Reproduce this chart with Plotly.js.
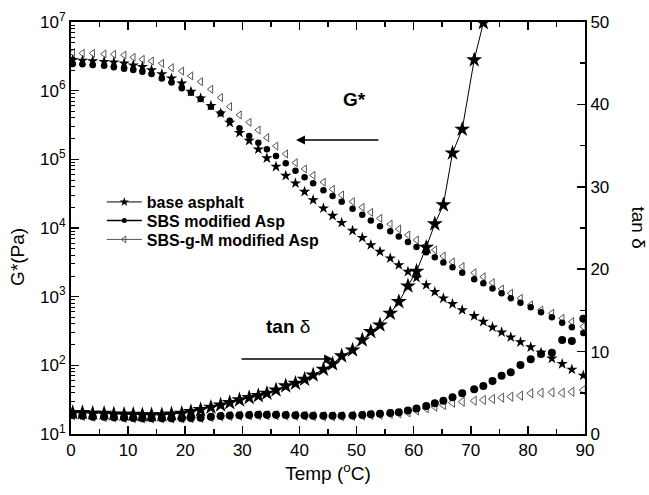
<!DOCTYPE html>
<html>
<head>
<meta charset="utf-8">
<script src="https://cdn.plot.ly/plotly-3.0.1.min.js"></script>
<style>html,body{margin:0;padding:0;background:#fff;}#chart{width:649px;height:495px;}</style>
</head>
<body>
<div id="chart"></div>
<script>
// Temperature (°C)
const temp = [0.3, 2.0, 3.8, 5.8, 7.5, 9.3, 10.9, 12.5, 14.1, 15.9, 17.6, 19.4, 21.0, 22.7, 24.5, 26.2, 27.8, 29.5, 31.2, 32.8, 34.3, 35.9, 37.6, 39.3, 40.9, 42.4, 44.2, 45.8, 47.4, 49.3, 51.0, 52.5, 54.1, 55.9, 57.4, 59.0, 60.5, 62.2, 63.7, 65.2, 66.8, 68.5, 70.6, 72.2, 73.8, 75.4, 77.0, 78.7, 80.5, 82.3, 84.2, 86.0, 87.7, 89.7];

// G* (Pa)
const gBase = [2.80e6, 2.74e6, 2.70e6, 2.64e6, 2.59e6, 2.50e6, 2.34e6, 2.23e6, 2.00e6, 1.75e6, 1.51e6, 1.28e6, 9.66e5, 7.74e5, 6.03e5, 4.68e5, 3.42e5, 2.44e5, 1.87e5, 1.40e5, 1.04e5, 7.82e4, 5.78e4, 4.48e4, 3.38e4, 2.56e4, 1.94e4, 1.51e4, 1.19e4, 9140, 7210, 5660, 4520, 3620, 2890, 2310, 1890, 1480, 1175, 946, 783, 640, 524, 433, 358, 303, 256, 218, 184, 153, 126, 105, 87, 71];
const gSBS = [2.44e6, 2.42e6, 2.36e6, 2.31e6, 2.19e6, 2.09e6, 2.00e6, 1.89e6, 1.75e6, 1.51e6, 1.31e6, 1.08e6, 9.33e5, 7.59e5, 5.85e5, 4.68e5, 3.66e5, 2.83e5, 2.19e5, 1.75e5, 1.40e5, 1.12e5, 8.75e4, 6.84e4, 5.47e4, 4.48e4, 3.55e4, 2.92e4, 2.42e4, 1.91e4, 1.56e4, 1.29e4, 1.06e4, 8970, 7530, 6270, 5300, 4420, 3740, 3140, 2680, 2230, 1790, 1570, 1320, 1120, 946, 817, 700, 593, 501, 418, 358, 295];
const gSBSgM = [3.57e6, 3.50e6, 3.50e6, 3.42e6, 3.39e6, 3.30e6, 3.06e6, 2.86e6, 2.70e6, 2.50e6, 2.16e6, 1.93e6, 1.64e6, 1.35e6, 1.05e6, 7.94e5, 5.85e5, 4.43e5, 3.46e5, 2.67e5, 2.07e5, 1.56e5, 1.20e5, 8.93e4, 7.24e4, 5.85e4, 4.65e4, 3.66e4, 3.03e4, 2.42e4, 2.00e4, 1.69e4, 1.38e4, 1.14e4, 9680, 7910, 6680, 5620, 4790, 3910, 3200, 2740, 2230, 1950, 1600, 1290, 1120, 946, 757, 640, 573, 484, 433, 366];

// tan delta
const tanBase = [2.59, 2.59, 2.51, 2.51, 2.43, 2.39, 2.39, 2.31, 2.31, 2.31, 2.43, 2.51, 2.71, 2.95, 3.24, 3.52, 3.80, 4.13, 4.41, 4.65, 4.94, 5.34, 5.83, 6.15, 6.64, 7.16, 7.85, 8.50, 9.47, 10.19, 11.41, 12.42, 13.23, 14.65, 16.06, 17.96, 19.75, 22.66, 25.49, 27.8, 34.1, 36.98, 45.4, 49.9];
const tanSBS = [2.31, 2.22, 2.10, 2.10, 2.02, 1.98, 1.94, 1.90, 1.90, 1.90, 1.90, 1.90, 1.94, 1.98, 2.10, 2.18, 2.25, 2.28, 2.31, 2.33, 2.33, 2.33, 2.31, 2.28, 2.25, 2.22, 2.20, 2.20, 2.20, 2.25, 2.31, 2.39, 2.45, 2.55, 2.65, 2.85, 3.10, 3.40, 3.73, 4.04, 4.45, 4.94, 5.42, 5.83, 6.43, 7.08, 7.49, 8.37, 9.07, 9.71, 9.87, 11.41, 11.29, 14.0];
const tanSBSgM = [2.25, 2.2, 2.1, 2.05, 2.0, 1.95, 1.92, 1.9, 1.9, 1.9, 1.9, 1.9, 1.92, 1.95, 2.05, 2.12, 2.18, 2.22, 2.25, 2.28, 2.28, 2.28, 2.25, 2.22, 2.2, 2.18, 2.15, 2.15, 2.15, 2.2, 2.25, 2.3, 2.35, 2.42, 2.5, 2.62, 2.85, 3.12, 3.32, 3.52, 3.80, 3.92, 4.04, 4.13, 4.25, 4.41, 4.53, 4.65, 4.94, 5.01, 5.06, 5.01, 5.13, 5.34];

const seriesNames = ['base asphalt', 'SBS modified Asp', 'SBS-g-M modified Asp'];
const yTickVals = [1e1, 1e2, 1e3, 1e4, 1e5, 1e6, 1e7];
const yTickText = ['10<sup>1</sup>', '10<sup>2</sup>', '10<sup>3</sup>', '10<sup>4</sup>', '10<sup>5</sup>', '10<sup>6</sup>', '10<sup>7</sup>'];

const FONT = 'Liberation Sans, Arial, sans-serif';
const GRAY = '#555';

const traces = [
  // G* curves (left log axis)
  {x: temp, y: gSBSgM, type: 'scatter', mode: 'markers', showlegend: false,
   marker: {symbol: 'triangle-left-open', size: 7, color: GRAY, line: {width: 1, color: GRAY}}},
  {x: temp, y: gSBS, type: 'scatter', mode: 'markers', showlegend: false,
   marker: {symbol: 'circle', size: 6.5, color: '#000'}},
  {x: temp, y: gBase, type: 'scatter', mode: 'markers', showlegend: false,
   marker: {symbol: 'star', size: 8.5, color: '#000', line: {width: 0}}},
  // tan delta curves (right axis)
  {x: temp, y: tanSBSgM, type: 'scatter', mode: 'markers', yaxis: 'y2', showlegend: false,
   marker: {symbol: 'triangle-left-open', size: 8, color: GRAY, line: {width: 1, color: GRAY}}},
  {x: temp, y: tanSBS, type: 'scatter', mode: 'markers', yaxis: 'y2', showlegend: false,
   marker: {symbol: 'circle', size: 8, color: '#000'}},
  {x: temp.slice(0, tanBase.length), y: tanBase, type: 'scatter', mode: 'lines+markers', yaxis: 'y2', showlegend: false,
   line: {width: 1, color: '#000'},
   marker: {symbol: 'star', size: 12, color: '#000', line: {width: 0}}},
  // legend entries (one legend per row for exact placement)
  {x: [null], y: [null], type: 'scatter', mode: 'lines+markers', name: seriesNames[0], legend: 'legend',
   line: {width: 1, color: '#000'}, marker: {symbol: 'star', size: 7, color: '#000'}},
  {x: [null], y: [null], type: 'scatter', mode: 'lines+markers', name: seriesNames[1], legend: 'legend2',
   line: {width: 1.5, color: '#000'}, marker: {symbol: 'circle', size: 5, color: '#000'}},
  {x: [null], y: [null], type: 'scatter', mode: 'lines+markers', name: seriesNames[2], legend: 'legend3',
   line: {width: 1, color: GRAY}, marker: {symbol: 'triangle-left-open', size: 6, color: GRAY}}
];

function legendAt(yPaper) {
  return {x: 0.06, y: yPaper, xanchor: 'left', yanchor: 'middle', bgcolor: 'rgba(0,0,0,0)',
          borderwidth: 0, font: {family: FONT, size: 16, color: '#000', weight: 'bold'},
          itemwidth: 35};
}

const layout = {
  width: 649, height: 495,
  margin: {l: 71, r: 64, t: 22, b: 61},
  paper_bgcolor: '#fff', plot_bgcolor: '#fff',
  font: {family: FONT, size: 17, color: '#000'},
  showlegend: true,
  legend: legendAt(0.563),
  legend2: legendAt(0.518),
  legend3: legendAt(0.472),
  xaxis: {
    range: [0, 90], dtick: 10, tick0: 0, showgrid: false, zeroline: false,
    showline: true, linewidth: 2, linecolor: '#000', mirror: 'ticks',
    ticks: 'inside', ticklen: 8, tickwidth: 1.5, tickcolor: '#000',
    minor: {dtick: 5, ticks: 'inside', ticklen: 5, tickwidth: 1.5, tickcolor: '#000', showgrid: false},
    tickfont: {family: FONT, size: 17},
    title: {text: 'Temp (<sup>o</sup>C)', font: {family: FONT, size: 19}, standoff: 6}
  },
  yaxis: {
    type: 'log', range: [1, 7], tickvals: yTickVals, ticktext: yTickText,
    showgrid: false, zeroline: false, showline: true, linewidth: 2, linecolor: '#000',
    ticks: 'inside', ticklen: 8, tickwidth: 1.5, tickcolor: '#000',
    minor: {dtick: 'D1', ticks: 'inside', ticklen: 4, tickwidth: 1, tickcolor: '#000', showgrid: false},
    tickfont: {family: FONT, size: 17}
  },
  yaxis2: {
    overlaying: 'y', side: 'right', range: [0, 50], dtick: 10, tick0: 0,
    showgrid: false, zeroline: false, showline: true, linewidth: 2, linecolor: '#000',
    ticks: 'inside', ticklen: 8, tickwidth: 1.5, tickcolor: '#000',
    minor: {dtick: 5, ticks: 'inside', ticklen: 5, tickwidth: 1.5, tickcolor: '#000', showgrid: false},
    tickfont: {family: FONT, size: 17}
  },
  annotations: [
    {xref: 'paper', yref: 'paper', x: -0.103, y: 0.43, xanchor: 'center', yanchor: 'middle',
     text: 'G*(Pa)', textangle: -90, showarrow: false, font: {family: FONT, size: 19, color: '#000'}},
    {xref: 'paper', yref: 'paper', x: 1.106, y: 0.5, xanchor: 'center', yanchor: 'middle',
     text: 'tan δ', textangle: 90, showarrow: false, font: {family: FONT, size: 19, color: '#000'}},
    {xref: 'x', yref: 'y', x: 49.7, y: 5.87, text: '<b>G*</b>', showarrow: false,
     font: {family: FONT, size: 19, color: '#000'}},
    {xref: 'x', yref: 'y', x: 39.4, y: 5.282, ax: 54.1, ay: 5.282, axref: 'x', ayref: 'y',
     text: '', showarrow: true, arrowhead: 2, arrowsize: 1.2, arrowwidth: 1.5, arrowcolor: '#000'},
    {xref: 'x', yref: 'y2', x: 38.0, y: 13.0, text: '<b>tan</b> δ', showarrow: false,
     font: {family: FONT, size: 19, color: '#000'}},
    {xref: 'x', yref: 'y2', x: 45.9, y: 9.1, ax: 29.6, ay: 9.1, axref: 'x', ayref: 'y2',
     text: '', showarrow: true, arrowhead: 2, arrowsize: 1.2, arrowwidth: 1.5, arrowcolor: '#000'}
  ]
};

Plotly.newPlot('chart', traces, layout, {displayModeBar: false, staticPlot: true});
</script>
</body>
</html>
